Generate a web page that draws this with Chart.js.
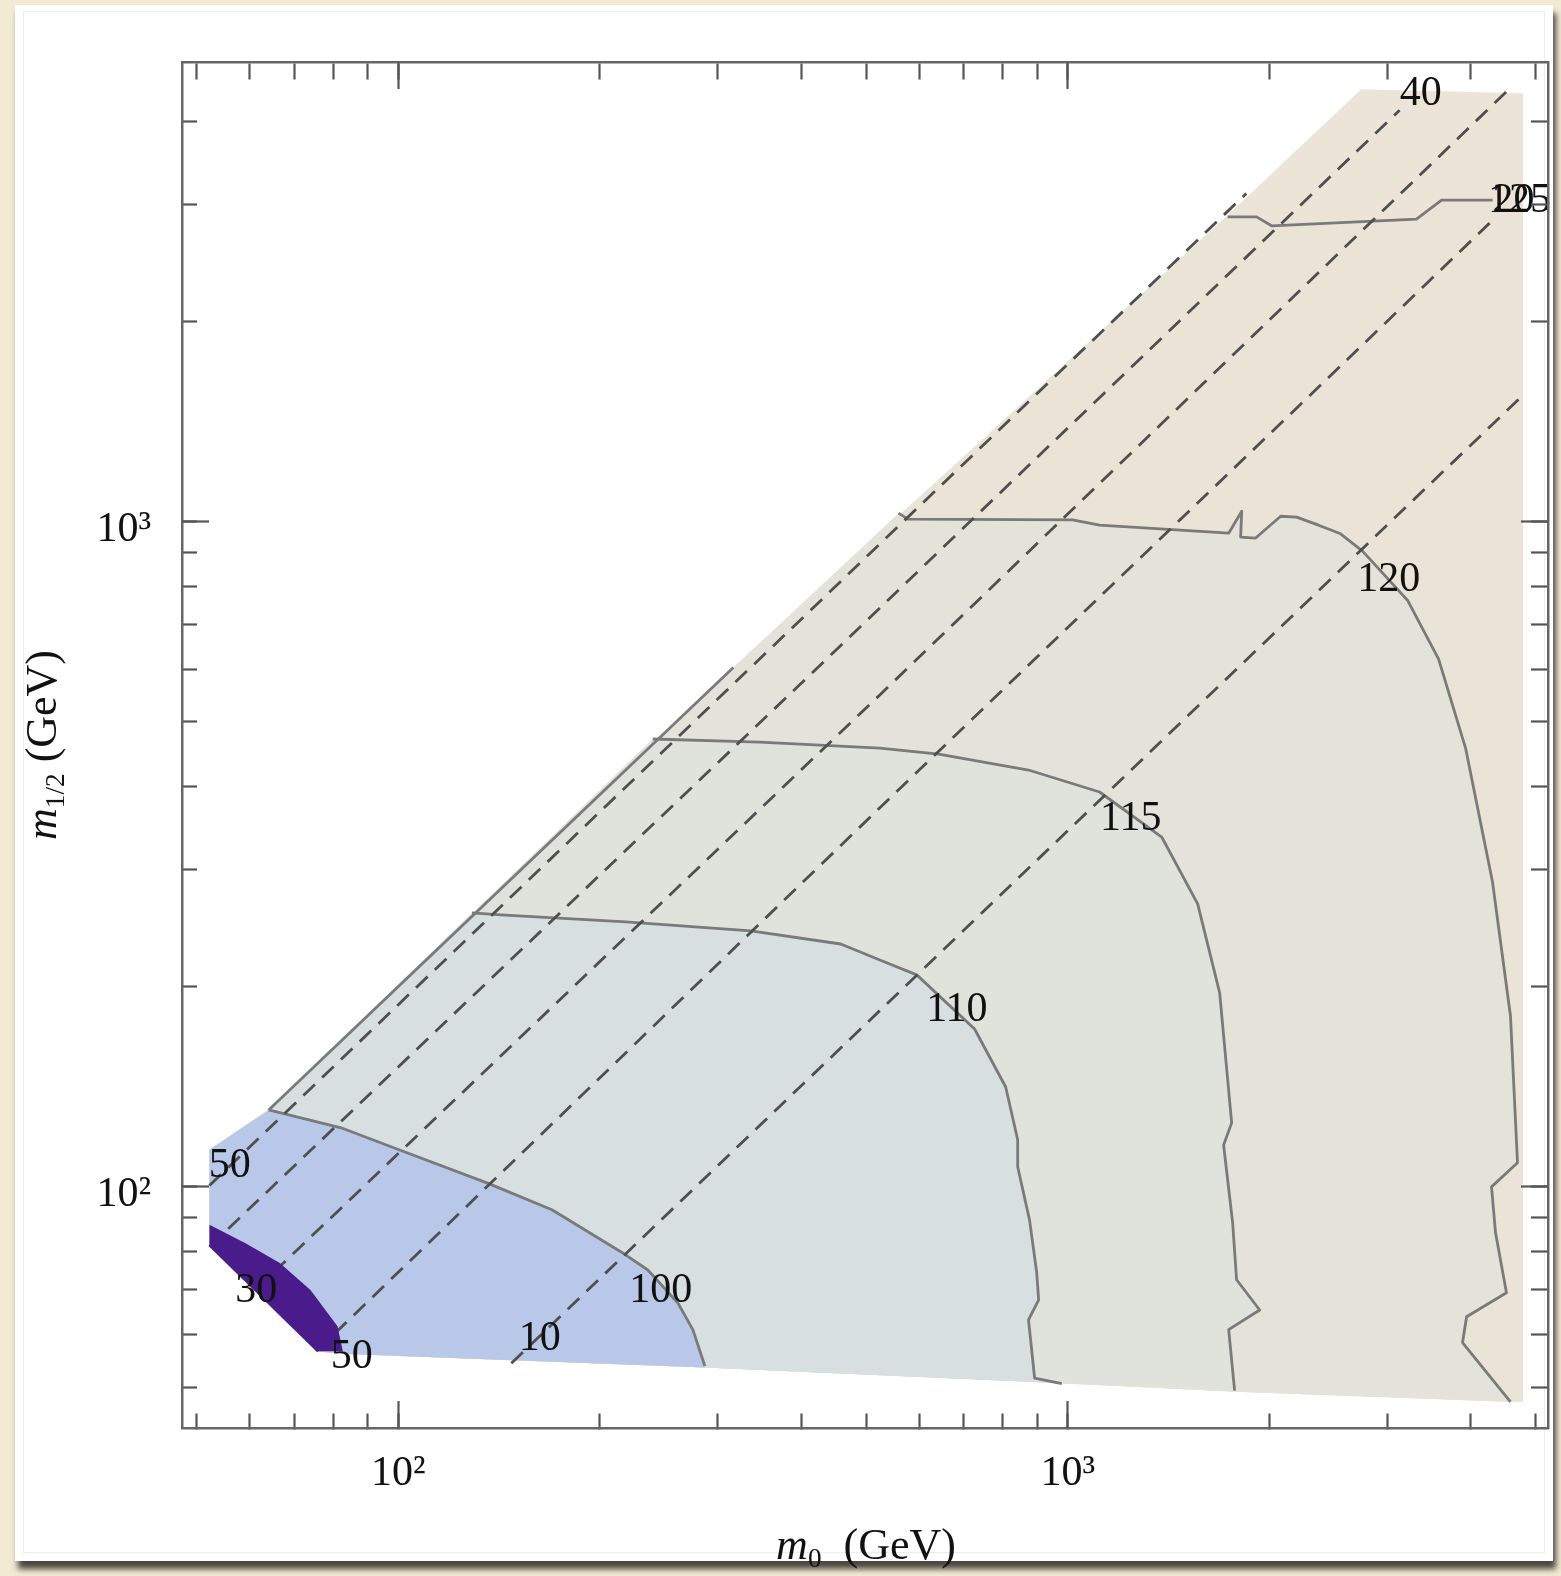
<!DOCTYPE html>
<html lang="en">
<head>
<meta charset="UTF-8">
<title>Higgs mass contours in the m0 - m1/2 plane</title>
<script src="https://cdn.jsdelivr.net/npm/chart.js"></script>
<style>
  body { margin: 0; width: 1561px; height: 1576px; background: #f3ead3; position: relative; overflow: hidden; }
  .paper { position: absolute; left: 15px; top: 5px; width: 1538px; height: 1556px; background: #fff; box-shadow: 3px 8px 6px rgba(0,0,0,0.7); }
  .edge { position: absolute; left: 23px; top: 11px; width: 1520px; height: 1540px; border: 1px solid rgba(0,0,0,0.07); }
  #chart { position: absolute; left: 0; top: 0; }
  .axis-title { position: absolute; font-family: 'Liberation Serif', 'Times New Roman', serif; font-size: 44px; line-height: 44px; white-space: nowrap; color: #111; }
  .axis-title sub { font-size: 0.62em; vertical-align: -0.3em; line-height: 0; }
  #xtitle { left: 866px; top: 1523px; transform: translateX(-50%); }
  #ytitle { left: 42px; top: 745px; transform: translate(-50%, -50%) rotate(-90deg); }
</style>
</head>
<body>
<div class="paper"></div>
<div class="edge"></div>
<canvas id="chart" width="1561" height="1576"></canvas>
<div class="axis-title" id="xtitle"><i>m</i><sub>0</sub>&nbsp; (GeV)</div>
<div class="axis-title" id="ytitle"><i>m</i><sub>1/2</sub> (GeV)</div>

<script>
// axis ranges (GeV)
const X_MIN = 47.5, X_MAX = 5220;
const Y_MIN = 43.4, Y_MAX = 4910;
const X_TICKS = [50, 60, 70, 80, 90, 100, 200, 300, 400, 500, 600, 700, 800, 900, 1000, 2000, 3000, 4000, 5000];
const Y_TICKS = [50, 60, 70, 80, 90, 100, 200, 300, 400, 500, 600, 700, 800, 900, 1000, 2000, 3000, 4000];
const MAJOR_TICKS = [100, 1000];
const TICK_LABELS = {100: '10²', 1000: '10³'};

// edge of the computed region, [m0, m1/2]
const EDGE_BOTTOM = [[4790, 47.5], [1788, 49.2], [892.5, 50.9], [287, 53.5], [82.1, 56.1], [75.4, 56.6], [52.2, 81.3], [52.2, 113.7], [64.0, 130.5]];
const EDGE_UPPER = [[64.0, 130.5], [316.6, 603.6], [561, 1023], [1734, 2890], [2746, 4467], [4790, 4407]];
const EDGE_LINE = [[64.0, 130.5], [316.6, 603.6]];

// Higgs mass contours (solid)
const MH100 = [[64.0, 130.5], [82.1, 122.7], [100.2, 113.7], [135.6, 101.4], [169.6, 92.4], [214.9, 79.9], [235.9, 75.0], [261.6, 66.9], [275.4, 61.0], [287, 53.8]];
const MH110 = [[128.8, 258.1], [142.3, 256.3], [218.7, 250.2], [336.1, 242.5], [458.1, 231.8], [524, 219.3], [595, 208.3], [726, 172.7], [808, 141.3], [842, 117.7], [842, 107.2], [877, 89.2], [899, 74.3], [905, 67.6], [874, 63.1], [892.5, 51.6], [980, 50.6]];
const MH115 = [[239.9, 471.3], [346.7, 466.4], [524, 456.7], [641.6, 447.4], [874, 423.3], [1116, 392.3], [1382, 335.7], [1564, 266.3], [1687, 195.7], [1758, 124.8], [1710, 115.6], [1764, 88.3], [1788, 72.5], [1936, 65.3], [1740, 61.0], [1776, 49.4]];
const MH120 = [[559, 1030], [577, 1009], [1017, 1006], [1116, 988], [1740, 961], [1820, 1037], [1813, 948], [1909, 945], [2081, 1019], [2198, 1016], [2371, 988], [2557, 959], [2758, 903], [3219, 762], [3583, 621.5], [3931, 456.7], [4313, 287.3], [4588, 180.7], [4700, 108.7], [4298, 100], [4358, 85.3], [4525, 69.3], [3945, 63.8], [3890, 58.3], [4588, 47.5]];
const MH125 = [[1734, 2872], [1915, 2872], [2017, 2785], [3320, 2850], [3620, 3043], [4313, 3043], [4790, 3043]];
const LOW_MH = [[52.2, 87.7], [59.1, 82.3], [66.5, 76.8], [73.9, 70.0], [81.1, 61.7], [82.6, 56.6], [75.4, 56.6], [52.2, 81.3]];

// dashed contours
const DASH_50 = [[52.2, 100.5], [316, 569], [1849, 3115]];
const DASH_40 = [[52.2, 81.3], [398, 569], [3133, 4155]];
const DASH_30 = [[61.1, 70.0], [524, 549], [4521, 4427]];
const DASH_20 = [[75.4, 56.6], [561, 396.8], [4269, 2811]];
const DASH_10 = [[147.5, 54.3], [791, 273.7], [4790, 1550]];

// contour labels: text, m0, m1/2
const LABELS = [
  ['40', 3368, 4390], ['125', 4733, 3033], ['20', 4637, 3033], ['120', 3017, 817],
  ['115', 1242, 357.3], ['110', 683, 184.5], ['100', 246.6, 69.8], ['10', 162.7, 59.1],
  ['50', 85.2, 55.5], ['30', 61.3, 69.8], ['50', 56.0, 107.5]
];

const FILL_COLORS = {domain: '#ece5d7', r125: '#eae4d6', r120: '#e4e3da', r115: '#e0e2dc', r110: '#d7dfe0', r100: '#b9c8e9', low: '#4a1b8b'};

const serif = "'Liberation Serif', 'Times New Roman', serif";
Chart.defaults.font.family = serif;

function pts(a) {
  return a.map(p => ({x: p[0], y: p[1]}));
}

// region inside a contour, closed along the edge of the plotted area
function region(contour) {
  const startX = contour[0][0];
  const endX = contour[contour.length - 1][0];
  return contour.concat(
    EDGE_BOTTOM.filter(p => p[0] <= endX),
    EDGE_UPPER.filter(p => p[0] > 64.0 && p[0] < startX)
  );
}

function area(data, color, order) {
  return {data: pts(data), showLine: true, fill: 'shape', backgroundColor: color, borderColor: 'transparent',
    borderWidth: 0, pointRadius: 0, order: order, clip: false};
}

function curve(data, order, dashed) {
  return {data: pts(data), showLine: true, fill: false, borderColor: dashed ? '#4f4f4f' : '#7a7a7a',
    borderWidth: dashed ? 2.8 : 2.8, borderDash: dashed ? [16, 10] : [], borderJoinStyle: 'round',
    pointRadius: 0, order: order};
}

function axis(kind, ticks, pos, len, extra) {
  return Object.assign({
    type: 'logarithmic',
    axis: kind,
    position: pos,
    min: kind === 'x' ? X_MIN : Y_MIN,
    max: kind === 'x' ? X_MAX : Y_MAX,
    afterBuildTicks: s => { s.ticks = ticks.map(v => ({value: v})); },
    grid: {display: true, drawOnChartArea: false, drawTicks: true, tickLength: len, tickColor: '#555', tickWidth: 2.2, z: 1},
    border: {display: false},
    ticks: {display: false, autoSkip: false, maxRotation: 0, minRotation: 0}
  }, extra || {});
}

const frame = {border: {display: true, color: '#666', width: 2.5, z: 1}};
const labelAxis = (offset, padding) => ({
  grid: {display: false, drawTicks: false},
  ticks: {display: true, autoSkip: false, maxRotation: 0, minRotation: 0, padding: padding, labelOffset: offset,
    color: '#111', font: {family: serif, size: 42}, callback: v => TICK_LABELS[v] || ''}
});

const contourLabels = {
  id: 'contourLabels',
  afterDatasetsDraw(chart) {
    const {ctx} = chart;
    const {x, y} = chart.scales;
    ctx.save();
    ctx.font = '42px ' + serif;
    ctx.fillStyle = '#111';
    ctx.textAlign = 'center';
    ctx.textBaseline = 'middle';
    for (const [t, vx, vy] of LABELS) {
      ctx.fillText(t, x.getPixelForValue(vx), y.getPixelForValue(vy));
    }
    ctx.restore();
  }
};

new Chart(document.getElementById('chart'), {
  type: 'scatter',
  data: {
    datasets: [
      area(EDGE_UPPER.concat(EDGE_BOTTOM), FILL_COLORS.domain, 100),
      area(region(MH125), FILL_COLORS.r125, 95),
      area(region(MH120), FILL_COLORS.r120, 90),
      area(region(MH115), FILL_COLORS.r115, 85),
      area(region(MH110), FILL_COLORS.r110, 80),
      area(region(MH100), FILL_COLORS.r100, 75),
      curve(EDGE_LINE, 40, false),
      curve(MH100, 40, false),
      curve(MH110, 40, false),
      curve(MH115, 40, false),
      curve(MH120, 40, false),
      curve(MH125.slice(0, -1), 40, false),
      curve(DASH_50, 30, true),
      curve(DASH_40, 30, true),
      curve(DASH_30, 30, true),
      curve(DASH_20, 30, true),
      curve(DASH_10, 30, true),
      area(LOW_MH, FILL_COLORS.low, 20)
    ]
  },
  options: {
    responsive: false,
    devicePixelRatio: 1,
    animation: false,
    events: [],
    layout: {padding: {left: 182, top: 62, right: 13, bottom: 148}},
    plugins: {legend: {display: false}, tooltip: {enabled: false}, title: {display: false}},
    scales: {
      x: axis('x', X_TICKS, {y: Y_MIN}, -16, frame),
      xMaj: axis('x', MAJOR_TICKS, {y: Y_MIN}, -27),
      xTop: axis('x', X_TICKS, {y: Y_MAX}, 16, frame),
      xTopMaj: axis('x', MAJOR_TICKS, {y: Y_MAX}, 27),
      xLab: axis('x', MAJOR_TICKS, {y: Y_MIN}, 0, labelAxis(0, 21)),
      y: axis('y', Y_TICKS, {x: X_MIN}, -16, frame),
      yMaj: axis('y', MAJOR_TICKS, {x: X_MIN}, -27),
      yRight: axis('y', Y_TICKS, {x: X_MAX}, 16, frame),
      yRightMaj: axis('y', MAJOR_TICKS, {x: X_MAX}, 27),
      yLab: axis('y', MAJOR_TICKS, {x: 42.69}, 0, labelAxis(8, 0))
    }
  },
  plugins: [contourLabels]
});
</script>
</body>
</html>
